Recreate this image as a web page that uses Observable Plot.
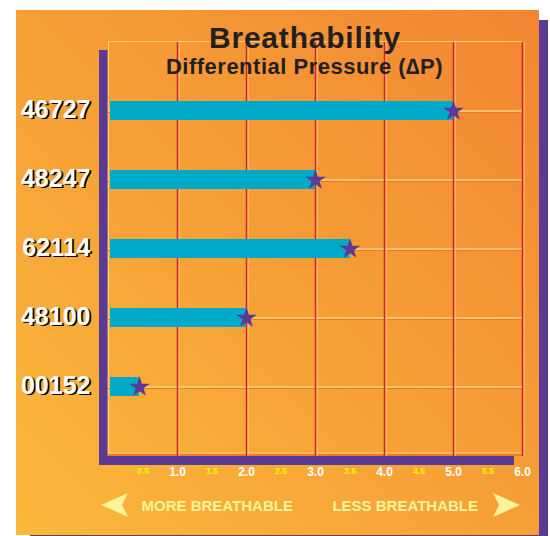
<!DOCTYPE html>
<html><head><meta charset="utf-8">
<script src="https://cdn.jsdelivr.net/npm/d3@7"></script>
<script src="https://cdn.jsdelivr.net/npm/@observablehq/plot@0.6"></script>
<style>body{margin:0;background:#fff;} svg{display:block}</style>
</head><body><div id="chart"></div>
<script>
const categories = ["46727", "48247", "62114", "48100", "00152"];
const values = [5.0, 3.0, 3.5, 2.0, 0.45];
const majorTicks = [1, 2, 3, 4, 5, 6];
const minorTicks = [0.5, 1.5, 2.5, 3.5, 4.5, 5.5];
const titleText = "Breathability";
const subtitleText = "Differential Pressure (\u2206P)";
const leftNote = "MORE BREATHABLE";
const rightNote = "LESS BREATHABLE";

const data = categories.map((c, i) => ({code: c, value: values[i]}));
const LIGHT = "#FFD27C", RED = "#CF2030", PURPLE = "#5B3A96", CYAN = "#00A9C8", NOTE = "#FFF39B";
const FONT = "'Liberation Sans', Arial, sans-serif";

const svg = Plot.plot({
  width: 550, height: 536,
  marginLeft: 108, marginRight: 28, marginTop: 42, marginBottom: 80,
  style: {fontFamily: FONT, background: "none"},
  x: {domain: [0, 6], axis: null},
  y: {domain: categories, range: [75.5, 420.5], padding: 0, axis: null},
  marks: [
    Plot.ruleY(categories, {y: d => d, stroke: "#E8772A", strokeWidth: 1, dy: 1.5}),
    Plot.ruleY(categories, {y: d => d, stroke: LIGHT, strokeWidth: 1.5}),
    Plot.ruleX(majorTicks, {x: d => d, stroke: LIGHT, strokeWidth: 1, dx: 1.5}),
    Plot.ruleX(majorTicks, {x: d => d, stroke: RED, strokeWidth: 1.5}),
    Plot.barX(data, {x1: 0, x2: "value", y: "code", fill: CYAN, insetTop: 25, insetBottom: 25, insetLeft: 2}),
    Plot.dot(data, {x: "value", y: "code", symbol: "star", r: 6.5, fill: PURPLE, stroke: "none"}),
    Plot.text(categories, {y: d => d, text: d => d, frameAnchor: "left", textAnchor: "end", dx: -16.3, dy: 0.2, fill: "#000", fontSize: 25, fontWeight: "bold", ariaLabel: "cat-label"}),
    Plot.text(categories, {y: d => d, text: d => d, frameAnchor: "left", textAnchor: "end", dx: -18, dy: -1.5, fill: "#fff", fontSize: 25, fontWeight: "bold", ariaLabel: "cat-label"}),
    Plot.text(majorTicks, {x: d => d, text: d => d.toFixed(1), frameAnchor: "bottom", dy: 19.5, fill: "#fff", fontSize: 12, fontWeight: "bold", ariaLabel: "major-tick"}),
    Plot.text(minorTicks, {x: d => d, text: d => d.toFixed(1), frameAnchor: "bottom", dy: 17.2, fill: "#FFF200", fontSize: 8.5, fontWeight: "bold", ariaLabel: "minor-tick"})
  ]
});
document.getElementById("chart").appendChild(svg);

const s = d3.select(svg);
s.selectAll('g[aria-label="cat-label"] text').attr("letter-spacing", "-0.5px");
s.selectAll('g[aria-label="major-tick"] text').attr("letter-spacing", "-1.1px");
s.selectAll('g[aria-label="minor-tick"] text').attr("letter-spacing", "-0.5px");

// background decorations (behind marks)
const bg = s.insert("g", ":first-child");
const grad = bg.append("defs").append("linearGradient").attr("id", "bgGrad")
  .attr("x1", 0).attr("y1", 1).attr("x2", 1).attr("y2", 0);
grad.append("stop").attr("offset", 0).attr("stop-color", "#FAB93A");
grad.append("stop").attr("offset", 1).attr("stop-color", "#F28532");
bg.append("rect").attr("x", 30).attr("y", 20).attr("width", 518).attr("height", 530).attr("fill", PURPLE);
bg.append("rect").attr("x", 16).attr("y", 10).attr("width", 523).attr("height", 525).attr("fill", "url(#bgGrad)");
bg.append("line").attr("x1", 108).attr("x2", 522).attr("y1", 41.5).attr("y2", 41.5).attr("stroke", "#FBC870").attr("stroke-width", 1);
bg.append("line").attr("x1", 108.5).attr("x2", 108.5).attr("y1", 41).attr("y2", 456).attr("stroke", "#FFD27C").attr("stroke-width", 1);
bg.append("line").attr("x1", 108).attr("x2", 522).attr("y1", 453).attr("y2", 453).attr("stroke", "#FCC66A").attr("stroke-width", 1);
bg.append("line").attr("x1", 108).attr("x2", 522).attr("y1", 455).attr("y2", 455).attr("stroke", "#EE7A26").attr("stroke-width", 2);
bg.append("rect").attr("x", 99).attr("y", 50).attr("width", 8.5).attr("height", 415).attr("fill", PURPLE);
bg.append("rect").attr("x", 99).attr("y", 456).attr("width", 415).attr("height", 9).attr("fill", PURPLE);

// foreground: title, subtitle, notes, arrows
const fg = s.append("g").attr("font-family", FONT).attr("font-weight", "bold");
fg.append("text").attr("x", 305).attr("y", 48).attr("text-anchor", "middle")
  .attr("font-size", 30).attr("letter-spacing", "0.8px").attr("fill", "#231F20").text(titleText);
fg.append("text").attr("x", 304.5).attr("y", 74).attr("text-anchor", "middle")
  .attr("font-size", 22).attr("letter-spacing", "0.5px").attr("fill", "#231F20").text(subtitleText);
fg.append("text").attr("x", 141.5).attr("y", 511).attr("text-anchor", "start")
  .attr("font-size", 15).attr("fill", NOTE).text(leftNote);
fg.append("text").attr("x", 478).attr("y", 511).attr("text-anchor", "end")
  .attr("font-size", 15).attr("fill", NOTE).text(rightNote);
fg.append("polygon").attr("points", "101,505 128,493 122,505 128,517").attr("fill", NOTE);
fg.append("polygon").attr("points", "520,505 493,493 499,505 493,517").attr("fill", NOTE);
</script>
</body></html>
